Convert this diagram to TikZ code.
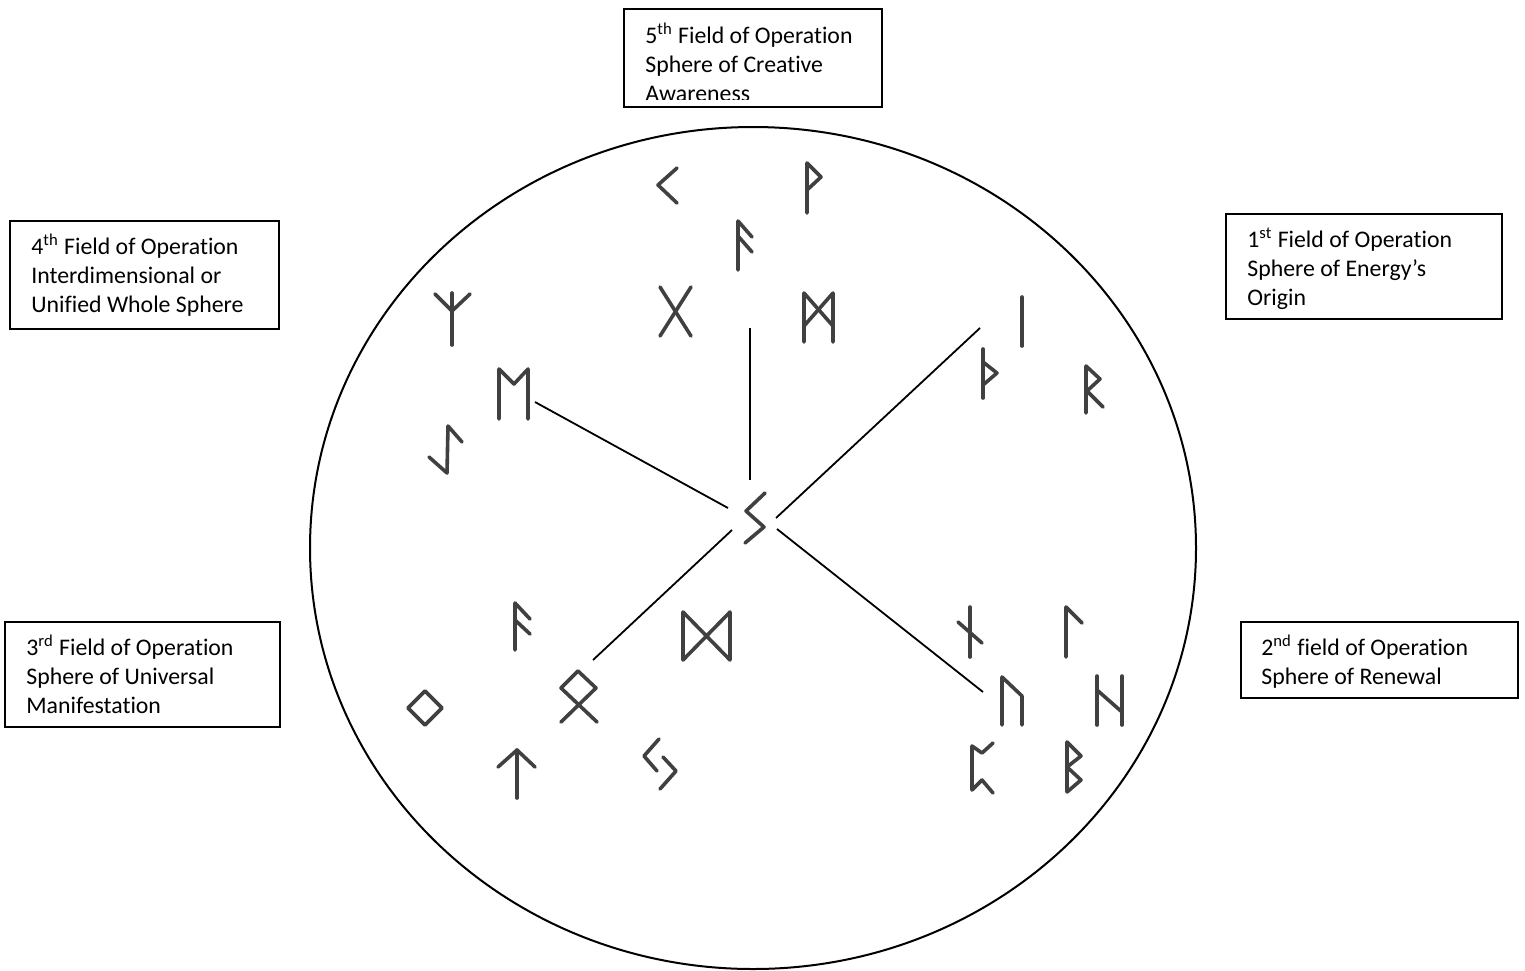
\documentclass[tikz,border=0pt]{standalone}
\usepackage{fontspec}
\setmainfont{Carlito}[Ligatures=NoCommon]
\usetikzlibrary{fit,shapes.geometric}
\begin{document}
\begin{tikzpicture}[x=0.5pt,y=-0.5pt,
  rune/.style={draw=black!75, line width=1.8pt, line join=round, line cap=round},
  link/.style={draw=black, line width=0.9pt},
  fieldbox/.style={draw=black, line width=1.2pt, inner sep=0pt},
  fieldtext/.style={anchor=base west, align=left, inner sep=0pt,
    font=\fontsize{11.9}{14.5}\selectfont}]
\useasboundingbox[fill=white] (0,0) rectangle (1525,970);

% outer circle
\node[draw=black, line width=1pt, ellipse, inner sep=0pt,
  minimum width=443pt, minimum height=421pt] (sphere) at (753,548) {};

% field boxes
\node[fieldbox, fit={(624,9) (882,107)}] (box5) {};
\node[fieldbox, fit={(10,221) (279,329)}] (box4) {};
\node[fieldbox, fit={(1226,214) (1502,319)}] (box1) {};
\node[fieldbox, fit={(5,622) (280,727)}] (box3) {};
\node[fieldbox, fit={(1241,622) (1518,698)}] (box2) {};

% (the base anchor of a multi-line node is the baseline of its last line)
\begin{scope}
  \clip (624,9) rectangle (882,99);
  \node[fieldtext] (t5) at (645,101) {5\textsuperscript{th} Field of Operation\\Sphere of Creative\\Awareness};
\end{scope}
\node[fieldtext] (t4) at (31,312) {4\textsuperscript{th} Field of Operation\\Interdimensional or\\Unified Whole Sphere};
\begin{scope}
  \clip (1226,214) rectangle (1502,310);
  \node[fieldtext] (t1) at (1247,305) {1\textsuperscript{st} Field of Operation\\Sphere of Energy’s\\Origin};
\end{scope}
\node[fieldtext] (t3) at (26,713) {3\textsuperscript{rd} Field of Operation\\Sphere of Universal\\Manifestation};
\node[fieldtext] (t2) at (1261,684) {2\textsuperscript{nd} field of Operation\\Sphere of Renewal};

% runes
\draw[rune] (677,168) -- (658,185) -- (677,203);                 % kaunan
\draw[rune] (807,213) -- (807,163) -- (821,177) -- (807,190);    % wunjo
\draw[rune] (738,270) -- (738,221) -- (752,237);                 % ansuz
\draw[rune] (738,236) -- (752,252);
\draw[rune] (660,287) -- (691,336);                              % gebo
\draw[rune] (691,287) -- (660,336);
\draw[rune] (804,342) -- (804,293) -- (833,326);                 % mannaz
\draw[rune] (833,342) -- (833,293) -- (804,326);
\draw[rune] (452,345) -- (452,293);                              % algiz
\draw[rune] (435,294) -- (452,311) -- (470,294);
\draw[rune] (499,419) -- (499,369) -- (514,384) -- (528,369) -- (528,419); % ehwaz
\draw[rune] (462,442) -- (448,426) -- (447,473) -- (429,457);    % eihwaz
\draw[rune] (1022,297) -- (1022,346);                            % isa
\draw[rune] (983,349) -- (983,398);                              % thurisaz
\draw[rune] (983,362) -- (997,373) -- (983,385);
\draw[rune] (1086,413) -- (1086,366) -- (1100,379) -- (1087,391) -- (1103,407); % raido
\draw[rune] (765,493) -- (746,511) -- (764,527) -- (745,543);    % sowilo
\draw[rune] (515,650) -- (515,603) -- (530,619);                 % ansuz lower
\draw[rune] (515,620) -- (530,634);
\draw[rune] (683,612) -- (683,660) -- (730,612) -- (730,660) -- cycle; % dagaz
\draw[rune] (408,708) -- (425,691) -- (442,708) -- (425,725) -- cycle; % ingwaz
\draw[rune] (561,722) -- (596,688) -- (578,671) -- (561,688) -- (597,722); % othala
\draw[rune] (517,798) -- (517,750);                              % tiwaz
\draw[rune] (498,767) -- (517,750) -- (535,767);
\draw[rune] (659,739) -- (644,756) -- (657,771);                 % jera
\draw[rune] (663,757) -- (676,771) -- (660,789);
\draw[rune] (970,607) -- (970,657);                              % naudiz
\draw[rune] (958,622) -- (982,643);
\draw[rune] (1066,657) -- (1066,607) -- (1082,623);              % laguz
\draw[rune] (1002,725) -- (1002,677) -- (1022,696) -- (1022,725); % uruz
\draw[rune] (1097,676) -- (1097,725);                            % hagalaz
\draw[rune] (1122,676) -- (1122,725);
\draw[rune] (1097,690) -- (1122,712);
\draw[rune] (993,743) -- (982,753) -- (972,746) -- (972,790) -- (982,780) -- (993,793); % perthro
\draw[rune] (1067,792) -- (1067,742) -- (1081,756) -- (1067,767) -- (1081,780) -- (1067,792); % berkano

% connector ends
\coordinate (cN)  at (750,480);
\coordinate (cNW) at (728,508);
\coordinate (cNE) at (776,518);
\coordinate (cSW) at (732,530);
\coordinate (cSE) at (777,529);
\coordinate (f5)  at (750,328);
\coordinate (f4)  at (535,402);
\coordinate (f1)  at (980,328);
\coordinate (f3)  at (593,660);
\coordinate (f2)  at (983,692);

\draw[link] (f5) -- (cN);
\draw[link] (f4) -- (cNW);
\draw[link] (f1) -- (cNE);
\draw[link] (f3) -- (cSW);
\draw[link] (f2) -- (cSE);
\end{tikzpicture}
\end{document}
